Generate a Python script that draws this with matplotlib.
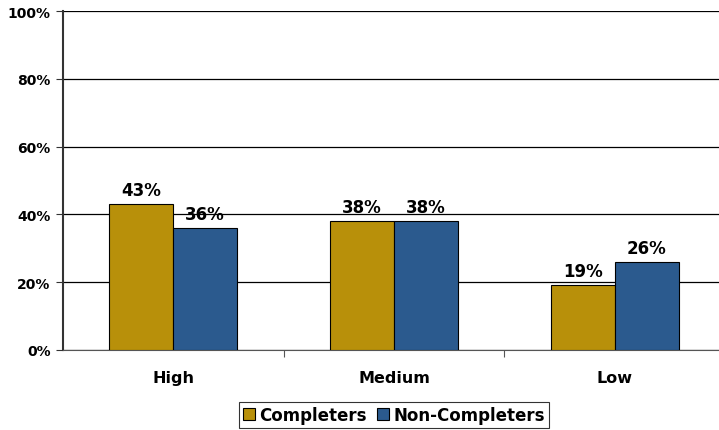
import numpy as np
import matplotlib
matplotlib.use("Agg")
import matplotlib.pyplot as plt

# data
categories = ['High', 'Medium', 'Low']
completers = [43, 38, 19]
non_completers = [36, 38, 26]
series_names = ['Completers', 'Non-Completers']

gold = '#B8900A'
blue = '#2B5A8E'

plt.rcParams['font.family'] = 'DejaVu Sans'
plt.rcParams['font.weight'] = 'bold'

fig = plt.figure(figsize=(7.19, 4.31), dpi=100)
ax = fig.add_axes([0.087, 0.186, 0.922, 0.786])

x = np.arange(len(categories))
w = 0.288
b1 = ax.bar(x - w/2, completers, w, color=gold, edgecolor='black', linewidth=0.8,
            label=series_names[0], zorder=3)
b2 = ax.bar(x + w/2, non_completers, w, color=blue, edgecolor='black', linewidth=0.8,
            label=series_names[1], zorder=3)

for bars in (b1, b2):
    for r in bars:
        ax.text(r.get_x() + r.get_width()/2, r.get_height() + 1.5,
                '%d%%' % r.get_height(), ha='center', va='bottom',
                fontsize=12, fontweight='bold')

ax.set_xlim(-0.5, 2.5)
ax.set_ylim(0, 100)
ax.set_yticks(np.arange(0, 101, 20))
ax.set_yticklabels(['%d%%' % v for v in range(0, 101, 20)], fontsize=10, fontweight='bold')
ax.yaxis.grid(True, color='black', linewidth=0.9, zorder=0)
ax.set_axisbelow(True)

ax.set_xticks([0.5, 1.5])
ax.set_xticklabels([])
ax.tick_params(axis='x', direction='out', length=5, color='#555555')
ax.tick_params(axis='y', direction='out', length=5, color='#333333')
for i, c in enumerate(categories):
    ax.text(i, -6, c, ha='center', va='top', fontsize=11.5, fontweight='bold',
            transform=ax.transData)

ax.spines['top'].set_visible(False)
ax.spines['right'].set_visible(False)
ax.spines['left'].set_linewidth(1.5)
ax.spines['left'].set_color('#333333')
ax.spines['bottom'].set_color('#555555')

leg = fig.legend(loc='center', bbox_to_anchor=(0.548, 0.035), ncol=2,
                 fontsize=12, frameon=True, fancybox=False, edgecolor='black',
                 handlelength=0.7, handleheight=0.7, handletextpad=0.3,
                 columnspacing=0.6, borderpad=0.25)
leg.get_frame().set_linewidth(0.8)

fig.savefig('out.png', dpi=100)
